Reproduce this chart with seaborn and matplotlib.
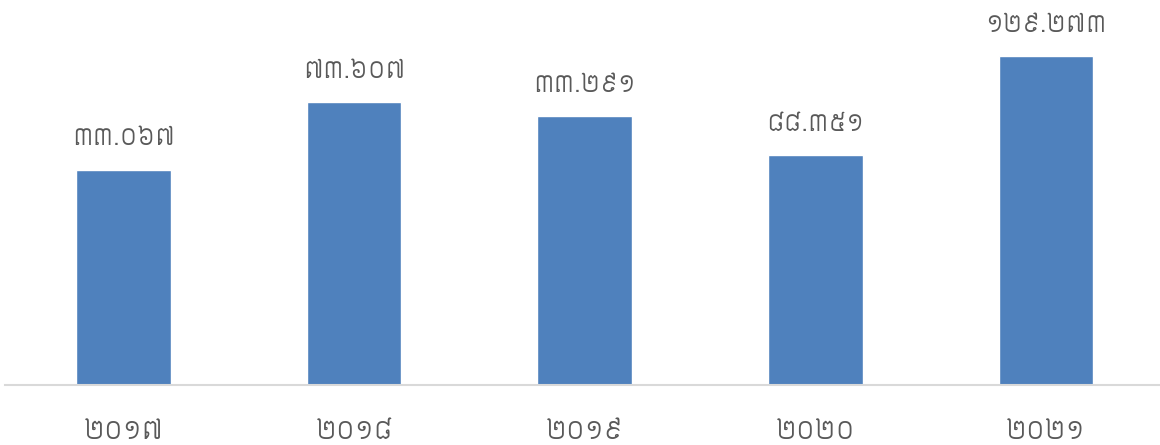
import matplotlib
matplotlib.use("Agg")
import matplotlib.pyplot as plt
from matplotlib import font_manager, ft2font
import seaborn as sns
import pandas as pd

# ---- data ----
years = ["២០១៧", "២០១៨", "២០១៩", "២០២០", "២០២១"]
values = [84.6, 111.2, 105.6, 90.4, 129.3]
value_labels = ["៣៣.០៦៧", "៧៣.៦០៧", "៣៣.២៩១", "៨៨.៣៥១", "១២៩.២៧៣"]


# ---- pick a font with Khmer digits (prefer Siemreap) ----
def khmer_families():
    paths = set(f.fname for f in font_manager.fontManager.ttflist)
    try:
        paths |= set(font_manager.findSystemFonts())
    except Exception:
        pass
    found = []
    for p in sorted(paths):
        try:
            cm = ft2font.FT2Font(p).get_charmap()
        except Exception:
            continue
        if 0x17E0 in cm and 0x17E9 in cm:
            found.append(p)
    pref = ["Siemreap", "Battambang-Light", "KohSantepheap-Light", "Content-Regular"]
    ordered = []
    for key in pref:
        ordered += [p for p in found if key in p.split("/")[-1]]
    ordered += [p for p in found if p not in ordered]
    names = []
    for p in ordered:
        try:
            font_manager.fontManager.addfont(p)
            n = font_manager.FontProperties(fname=p).get_name()
            if n not in names:
                names.append(n)
        except Exception:
            pass
    return names[:1]


fams = khmer_families()

sns.set_theme(style="white")
plt.rcParams["font.family"] = fams + ["DejaVu Sans"]

df = pd.DataFrame({"year": years, "value": values})

fig = plt.figure(figsize=(11.6, 4.45), dpi=100)
ax = fig.add_axes([4.6 / 1160, 60 / 445, 1155.4 / 1160, 385 / 445])

sns.barplot(data=df, x="year", y="value", color="#4F81BD", saturation=1,
            width=0.41, ax=ax)

xmin = -0.5156
ax.set_xlim(xmin, xmin + 1155.4 / 230.6)
ax.set_ylim(0, 151.4)

for i, (v, lab) in enumerate(zip(values, value_labels)):
    ax.annotate(lab, xy=(i, v), xytext=(0, 14), textcoords="offset points",
                ha="center", va="bottom", fontsize=16.8, color="#595959")

for s in ["left", "right", "top"]:
    ax.spines[s].set_visible(False)
ax.spines["bottom"].set_color("#D9D9D9")
ax.spines["bottom"].set_linewidth(1.5)
ax.set_yticks([])
ax.set_xlabel("")
ax.set_ylabel("")
ax.tick_params(axis="x", length=0, pad=25.5, labelsize=18, labelcolor="#595959")

fig.savefig("out.png", dpi=100)
